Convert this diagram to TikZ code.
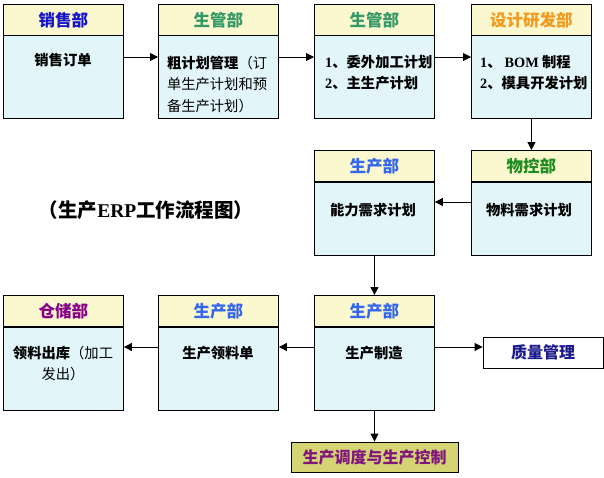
\documentclass[tikz,border=0pt]{standalone}
\usepackage{fontspec}
\setmainfont{Noto Sans CJK SC}
\newfontfamily\serifb{Liberation Serif}
\usetikzlibrary{arrows.meta}
\definecolor{hdrfill}{HTML}{FBF7CE}
\definecolor{bodyfill}{HTML}{E2F6F9}
\definecolor{cSales}{HTML}{1414C8}
\definecolor{cPlan}{HTML}{339966}
\definecolor{cDesign}{HTML}{F39A1E}
\definecolor{cProd}{HTML}{3366F0}
\definecolor{cMat}{HTML}{1E8C1E}
\definecolor{cStore}{HTML}{880088}
\definecolor{cQual}{HTML}{1A1A8C}
\definecolor{botfill}{HTML}{D4D474}
\definecolor{botText}{HTML}{80157F}
\begin{document}
\begin{tikzpicture}[x=1pt,y=-1pt,
  hdr/.style={draw=black, line width=0.9pt, fill=hdrfill, minimum width=120pt, minimum height=31pt, inner sep=0pt, anchor=north west, font=\fontsize{16.5}{18}\selectfont\bfseries},
  bodybox/.style={draw=black, line width=0.9pt, fill=bodyfill, minimum width=120pt, inner sep=0pt, anchor=north west},
  txt/.style={inner sep=0pt, font=\fontsize{14.3}{21.5}\selectfont},
  btxt/.style={inner sep=0pt, font=\fontsize{14.3}{21.5}\selectfont\bfseries},
  arr/.style={line width=0.9pt, -{Triangle[length=8pt,width=8pt]}}]
\useasboundingbox (0,0) rectangle (604,477);

% row 1
\node[bodybox, minimum height=83pt] (b1) at (3,35) {};
\node[hdr, text=cSales] (h1) at (3,4) {销售部};
\node[bodybox, minimum height=83pt] (b2) at (158,35) {};
\node[hdr, text=cPlan] (h2) at (158,4) {生管部};
\node[bodybox, minimum height=83pt] (b3) at (314,35) {};
\node[hdr, text=cPlan] (h3) at (314,4) {生管部};
\node[bodybox, minimum height=83pt] (b4) at (471,35) {};
\node[hdr, text=cDesign] (h4) at (471,4) {设计研发部};

% row 2
\node[bodybox, minimum height=73pt] (b5) at (314,182) {};
\node[hdr, text=cProd] (h5) at (314,150) {生产部};
\node[bodybox, minimum height=73pt] (b6) at (471,182) {};
\node[hdr, text=cMat] (h6) at (471,150) {物控部};

% row 3
\node[bodybox, minimum height=83pt] (b7) at (3,327) {};
\node[hdr, text=cStore] (h7) at (3,295) {仓储部};
\node[bodybox, minimum height=83pt] (b8) at (158,327) {};
\node[hdr, text=cProd] (h8) at (158,295) {生产部};
\node[bodybox, minimum height=83pt] (b9) at (314,327) {};
\node[hdr, text=cProd] (h9) at (314,295) {生产部};

\node[draw=black, line width=0.9pt, fill=white, minimum width=120pt, minimum height=31pt, inner sep=0pt, text=cQual, font=\fontsize{16}{18}\selectfont\bfseries] (q) at (543,352.5) {质量管理};
\node[draw=black, line width=0.9pt, fill=botfill, minimum width=167pt, minimum height=30pt, inner sep=0pt, text=botText, font=\fontsize{16}{18}\selectfont\bfseries] (bot) at (374.5,457) {生产调度与生产控制};

% texts
\node[btxt] (t1) at (63,60) {销售订单};
\node[txt, text width=104pt, align=left] (t2) at (219,84) {\textbf{粗计划管理}（订\\单生产计划和预\\备生产计划）};
\node[btxt, anchor=west, align=left] (t3) at (325,72.5) {{\serifb 1}、委外加工计划\\{\serifb 2}、主生产计划};
\node[btxt, anchor=west, align=left] (t4) at (480,72.5) {{\serifb 1}、\hspace{3pt}{\serifb BOM} 制程\\{\serifb 2}、模具开发计划};
\node[btxt] (t5) at (373,210) {能力需求计划};
\node[btxt] (t6) at (529,210) {物料需求计划};
\node[txt, align=center] (t7) at (63,363.5) {\textbf{领料出库}（加工\\发出）};
\node[btxt] (t8) at (218,353) {生产领料单};
\node[btxt] (t9) at (374,353) {生产制造};

\node[inner sep=0pt, font=\fontsize{19.5}{22}\selectfont\bfseries] (title) at (146,210) {（生产{\serifb ERP}工作流程图）};

% connectors
\draw[arr] ([yshift=-22pt]b1.north east) -- ([yshift=-22pt]b2.north west);
\draw[arr] ([yshift=-22pt]b2.north east) -- ([yshift=-22pt]b3.north west);
\draw[arr] ([yshift=-22pt]b3.north east) -- ([yshift=-22pt]b4.north west);
\draw[arr] (b4.south) -- (h6.north);
\draw[arr] ([yshift=-20pt]b6.north west) -- ([yshift=-20pt]b5.north east);
\draw[arr] (b5.south) -- (h9.north);
\draw[arr] ([yshift=-20pt]b9.north west) -- ([yshift=-20pt]b8.north east);
\draw[arr] ([yshift=-20pt]b8.north west) -- ([yshift=-20pt]b7.north east);
\coordinate (qa) at ([yshift=-20pt]b9.north east);
\draw[arr] (qa) -- (qa -| q.west);
\draw[arr] (b9.south) -- (bot.north);
\end{tikzpicture}
\end{document}
